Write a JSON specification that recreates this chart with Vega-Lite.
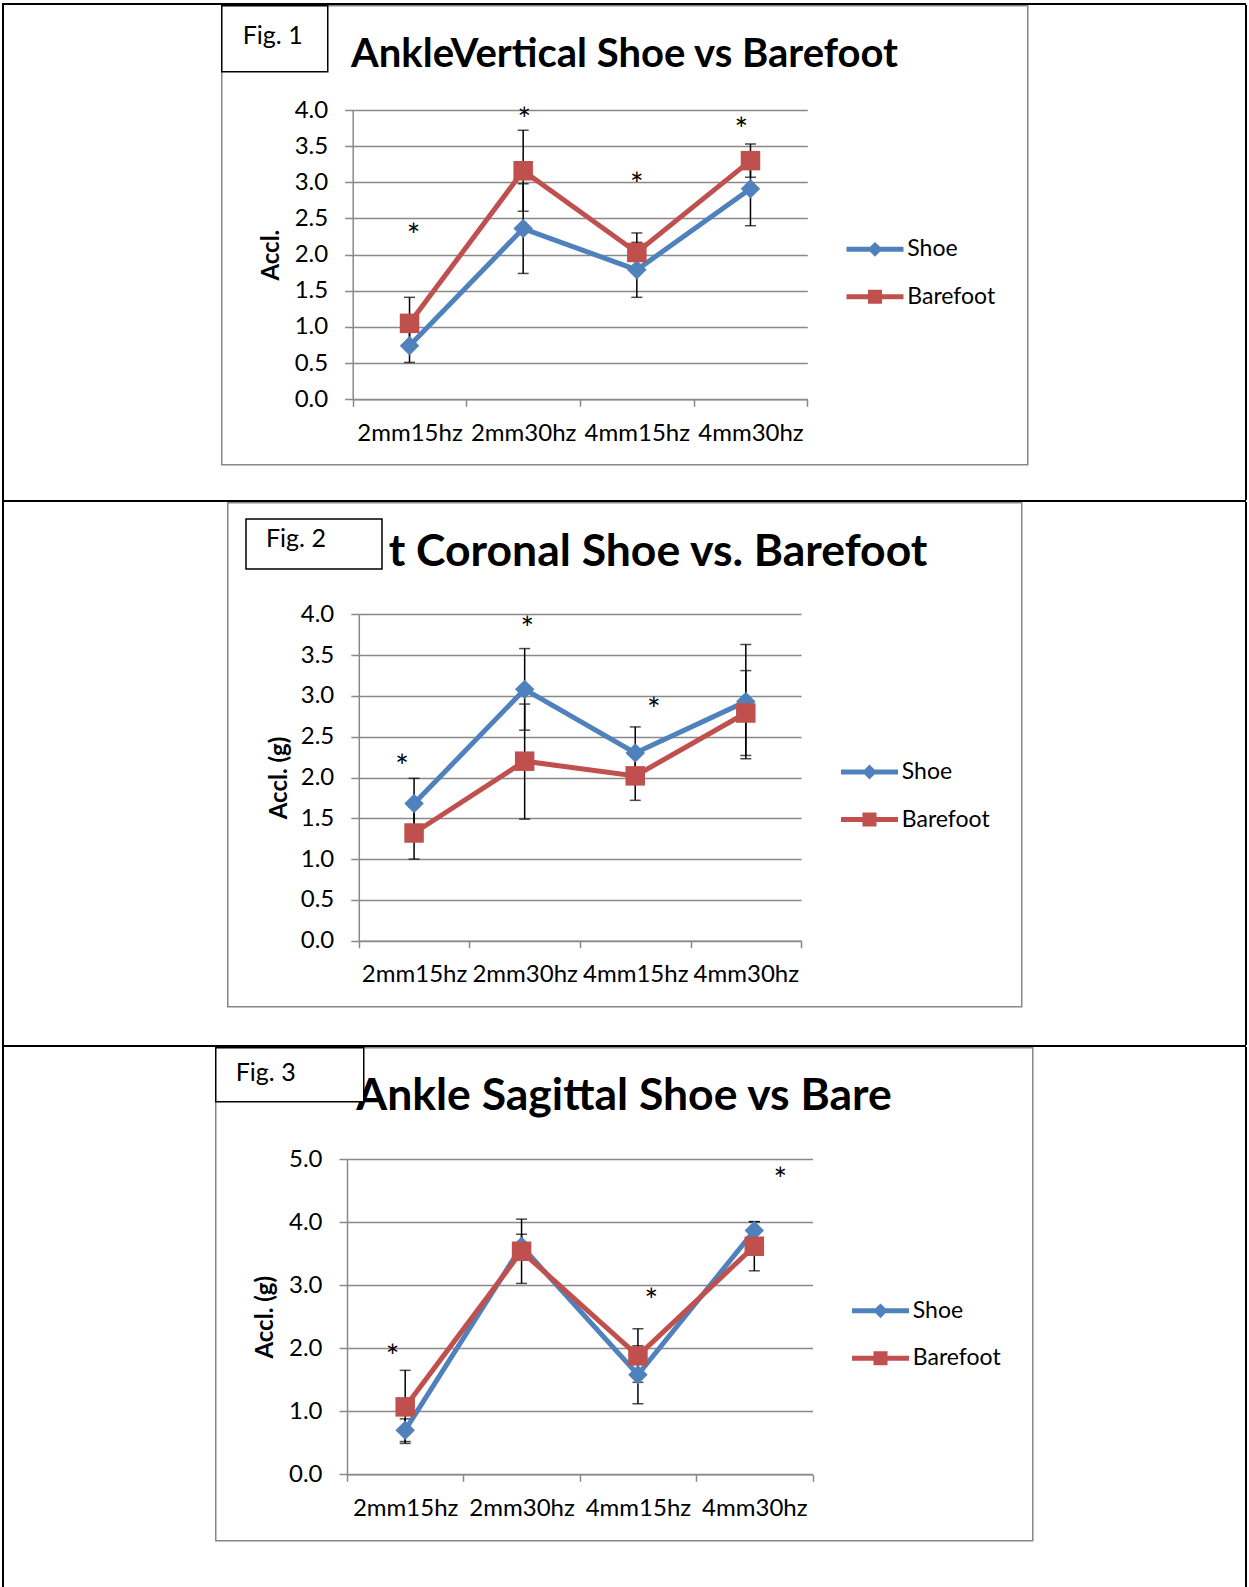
{
  "$schema": "https://vega.github.io/schema/vega-lite/v6.json",
  "background": "white",
  "padding": {"left": 2, "top": 3, "right": 0, "bottom": 0},
  "spacing": 0,
  "resolve": {"scale": {"color": "independent", "fill": "independent", "stroke": "independent"}, "legend": {"color": "independent", "fill": "independent", "stroke": "independent"}},
  "datasets": {
    "d1": [
      {"cat": "2mm15hz", "series": "Shoe", "mean": 0.74, "lo": 0.51, "hi": 0.97},
      {"cat": "2mm30hz", "series": "Shoe", "mean": 2.36, "lo": 1.74, "hi": 2.98},
      {"cat": "4mm15hz", "series": "Shoe", "mean": 1.79, "lo": 1.41, "hi": 2.17},
      {"cat": "4mm30hz", "series": "Shoe", "mean": 2.91, "lo": 2.40, "hi": 3.42},
      {"cat": "2mm15hz", "series": "Barefoot", "mean": 1.05, "lo": 0.69, "hi": 1.41},
      {"cat": "2mm30hz", "series": "Barefoot", "mean": 3.16, "lo": 2.60, "hi": 3.72},
      {"cat": "4mm15hz", "series": "Barefoot", "mean": 2.03, "lo": 1.76, "hi": 2.30},
      {"cat": "4mm30hz", "series": "Barefoot", "mean": 3.30, "lo": 3.07, "hi": 3.53}
    ],
    "d2": [
      {"cat": "2mm15hz", "series": "Shoe", "mean": 1.68, "lo": 1.37, "hi": 1.99},
      {"cat": "2mm30hz", "series": "Shoe", "mean": 3.08, "lo": 2.58, "hi": 3.58},
      {"cat": "4mm15hz", "series": "Shoe", "mean": 2.30, "lo": 1.98, "hi": 2.62},
      {"cat": "4mm30hz", "series": "Shoe", "mean": 2.93, "lo": 2.23, "hi": 3.63},
      {"cat": "2mm15hz", "series": "Barefoot", "mean": 1.32, "lo": 1.00, "hi": 1.64},
      {"cat": "2mm30hz", "series": "Barefoot", "mean": 2.20, "lo": 1.49, "hi": 2.90},
      {"cat": "4mm15hz", "series": "Barefoot", "mean": 2.02, "lo": 1.72, "hi": 2.32},
      {"cat": "4mm30hz", "series": "Barefoot", "mean": 2.79, "lo": 2.27, "hi": 3.31}
    ],
    "d3": [
      {"cat": "2mm15hz", "series": "Shoe", "mean": 0.70, "lo": 0.52, "hi": 0.88},
      {"cat": "2mm30hz", "series": "Shoe", "mean": 3.62, "lo": 3.43, "hi": 3.81},
      {"cat": "4mm15hz", "series": "Shoe", "mean": 1.58, "lo": 1.12, "hi": 2.04},
      {"cat": "4mm30hz", "series": "Shoe", "mean": 3.87, "lo": 3.73, "hi": 4.01},
      {"cat": "2mm15hz", "series": "Barefoot", "mean": 1.07, "lo": 0.49, "hi": 1.65},
      {"cat": "2mm30hz", "series": "Barefoot", "mean": 3.54, "lo": 3.03, "hi": 4.05},
      {"cat": "4mm15hz", "series": "Barefoot", "mean": 1.88, "lo": 1.46, "hi": 2.31},
      {"cat": "4mm30hz", "series": "Barefoot", "mean": 3.62, "lo": 3.23, "hi": 4.01}
    ],
    "s1": [
      {"cat": "2mm15hz", "y": 2.36, "shift": 0.035},
      {"cat": "2mm30hz", "y": 3.96, "shift": 0.01},
      {"cat": "4mm15hz", "y": 3.06, "shift": 0},
      {"cat": "4mm30hz", "y": 3.82, "shift": -0.08}
    ],
    "s2": [
      {"cat": "2mm15hz", "y": 2.22, "shift": -0.12},
      {"cat": "2mm30hz", "y": 3.90, "shift": 0.01},
      {"cat": "4mm15hz", "y": 2.91, "shift": 0.15}
    ],
    "s3": [
      {"cat": "2mm15hz", "y": 1.97, "shift": -0.10},
      {"cat": "4mm15hz", "y": 2.86, "shift": 0.13},
      {"cat": "4mm30hz", "y": 4.79, "shift": 0.24}
    ]
  },
  "vconcat": [
    {"width": 1244, "height": 2, "data": {"values": []}, "mark": "rect", "encoding": {}, "view": {"fill": "black", "stroke": null}},
    {
      "spacing": 0,
      "resolve": {"scale": {"color": "independent", "fill": "independent", "stroke": "independent"}, "legend": {"color": "independent", "fill": "independent", "stroke": "independent"}},
      "hconcat": [
        {"width": 2, "height": 495, "data": {"values": []}, "mark": "rect", "encoding": {}, "view": {"fill": "black", "stroke": null}},
        {"width": 217, "height": 495, "data": {"values": []}, "mark": "rect", "encoding": {}},
        {
          "width": 807, "height": 495,
          "view": {"fill": "white", "stroke": null},
          "title": {"text": "AnkleVertical Shoe vs Barefoot", "fontSize": 40, "offset": -69.5},
          "data": {"name": "d1"},
          "layer": [
            {
              "mark": {"type": "rule", "color": "black", "strokeWidth": 1.5},
              "encoding": {
                "x": {"field": "cat", "type": "nominal", "scale": {"type": "band", "domain": ["2mm15hz", "2mm30hz", "4mm15hz", "4mm30hz"], "range": [131.7, 586.3], "paddingInner": 0, "paddingOuter": 0}, "axis": {"title": null, "offset": -100.7, "tickBand": "extent", "labelAngle": 0, "tickSize": 7, "labelPadding": 15, "grid": false, "labelOverlap": false}},
                "y": {"field": "lo", "type": "quantitative", "scale": {"domain": [0, 4], "range": [394.3, 105], "nice": false, "zero": false}, "axis": {"title": "Accl.", "values": [0, 0.5, 1, 1.5, 2, 2.5, 3, 3.5, 4], "format": ".1f", "offset": -131.7, "grid": true, "tickSize": 8, "labelPadding": 17, "titleX": -81.7, "titleBaseline": "middle"}},
                "y2": {"field": "hi"}
              }
            },
            {
              "mark": {"type": "tick", "color": "black", "thickness": 1.5, "size": 11, "orient": "horizontal"},
              "encoding": {"x": {"field": "cat", "type": "nominal"}, "y": {"field": "lo", "type": "quantitative"}}
            },
            {
              "mark": {"type": "tick", "color": "black", "thickness": 1.5, "size": 11, "orient": "horizontal"},
              "encoding": {"x": {"field": "cat", "type": "nominal"}, "y": {"field": "hi", "type": "quantitative"}}
            },
            {
              "mark": {"type": "line", "strokeWidth": 5},
              "encoding": {
                "x": {"field": "cat", "type": "nominal"},
                "y": {"field": "mean", "type": "quantitative"},
                "color": {"field": "series", "type": "nominal", "scale": {"domain": ["Shoe", "Barefoot"], "range": ["#4F81BD", "#C0504D"]}, "legend": {"orient": "none", "legendX": 635, "legendY": 225.3, "title": null, "padding": 0, "symbolSize": 1444, "symbolStrokeWidth": 0, "labelOffset": 13.3, "rowPadding": 16.5, "direction": "vertical", "encode": {"symbols": {"update": {"shape": {"signal": "datum.value === 'Shoe' ? 'M-1.5,-0.13H-0.26L0,-0.39L0.26,-0.13H1.5V0.13H0.26L0,0.39L-0.26,0.13H-1.5Z' : 'M-1.5,-0.13H-0.37V-0.37H0.37V-0.13H1.5V0.13H0.37V0.37H-0.37V0.13H-1.5Z'"}, "fill": {"signal": "datum.value === 'Shoe' ? '#4F81BD' : '#C0504D'"}, "stroke": {"value": "transparent"}, "strokeWidth": {"value": 0}, "opacity": {"value": 1}}}}}}
              }
            },
            {
              "transform": [{"filter": "datum.series === 'Shoe'"}],
              "mark": {"type": "point", "filled": true, "opacity": 1, "size": 380, "shape": "diamond"},
              "encoding": {"x": {"field": "cat", "type": "nominal"}, "y": {"field": "mean", "type": "quantitative"}, "color": {"field": "series", "type": "nominal"}}
            },
            {
              "transform": [{"filter": "datum.series === 'Barefoot'"}],
              "mark": {"type": "point", "filled": true, "opacity": 1, "size": 380, "shape": "square"},
              "encoding": {"x": {"field": "cat", "type": "nominal"}, "y": {"field": "mean", "type": "quantitative"}, "color": {"field": "series", "type": "nominal"}}
            },
            {
              "data": {"name": "s1"},
              "mark": {"type": "text", "text": "*", "fontSize": 32, "font": "Lato", "baseline": "alphabetic", "dy": 18, "color": "black"},
              "encoding": {
                "x": {"field": "cat", "type": "nominal"},
                "xOffset": {"field": "shift", "type": "quantitative", "scale": {"domain": [-0.5, 0.5]}},
                "y": {"field": "y", "type": "quantitative"}
              }
            },
            {
              "data": {"values": [{"w": 1}]},
              "mark": {"type": "point", "opacity": 0},
              "encoding": {
                "stroke": {"field": "w", "type": "quantitative", "scale": {"domain": [0, 2], "range": ["white", "white"]}, "legend": {"orient": "none", "legendX": 0.75, "legendY": 0.75, "direction": "horizontal", "title": null, "gradientLength": 805.5, "gradientThickness": 458, "gradientStrokeWidth": 0, "labelOpacity": 0, "labelFontSize": 1, "labelOffset": 0, "padding": 0, "strokeColor": "#878787", "zindex": 0, "encode": {"gradient": {"update": {"opacity": {"value": 0}}}, "legend": {"update": {"strokeWidth": {"value": 1.5}}}}}}
              }
            },
            {
              "data": {"values": [{"v": 0.5}]},
              "mark": {"type": "point", "opacity": 0},
              "encoding": {
                "fill": {"field": "v", "type": "quantitative", "scale": {"domain": [0, 1], "range": ["white", "white"]}, "legend": {"orient": "none", "legendX": 0.75, "legendY": 0.75, "direction": "horizontal", "title": "Fig. 1", "titleFontSize": 25, "titleFontWeight": "normal", "titleColor": "black", "titlePadding": 0, "gradientLength": 70, "gradientThickness": 4, "gradientStrokeWidth": 0, "labelOpacity": 0, "labelFontSize": 1, "labelOffset": 0, "padding": 18, "strokeColor": "black", "fillColor": "white", "zindex": 1, "encode": {"title": {"update": {"dx": {"value": 3}}}, "legend": {"update": {"strokeWidth": {"value": 1.5}}}}}}
              }
            }
          ]
        },
        {"width": 216, "height": 495, "data": {"values": []}, "mark": "rect", "encoding": {}},
        {"width": 2, "height": 495, "data": {"values": []}, "mark": "rect", "encoding": {}, "view": {"fill": "black", "stroke": null}}
      ]
    },
    {"width": 1244, "height": 2, "data": {"values": []}, "mark": "rect", "encoding": {}, "view": {"fill": "black", "stroke": null}},
    {
      "spacing": 0,
      "resolve": {"scale": {"color": "independent", "fill": "independent", "stroke": "independent"}, "legend": {"color": "independent", "fill": "independent", "stroke": "independent"}},
      "hconcat": [
        {"width": 2, "height": 543, "data": {"values": []}, "mark": "rect", "encoding": {}, "view": {"fill": "black", "stroke": null}},
        {"width": 223, "height": 543, "data": {"values": []}, "mark": "rect", "encoding": {}},
        {
          "width": 795, "height": 543,
          "view": {"fill": "white", "stroke": null},
          "title": {"text": "t Coronal Shoe vs. Barefoot", "fontSize": 44.5, "offset": -73.8, "dx": 33.5},
          "data": {"name": "d2"},
          "layer": [
            {
              "mark": {"type": "rule", "color": "black", "strokeWidth": 1.5},
              "encoding": {
                "x": {"field": "cat", "type": "nominal", "scale": {"type": "band", "domain": ["2mm15hz", "2mm30hz", "4mm15hz", "4mm30hz"], "range": [131.8, 574.1], "paddingInner": 0, "paddingOuter": 0}, "axis": {"title": null, "offset": -104.3, "tickBand": "extent", "labelAngle": 0, "tickSize": 7, "labelPadding": 15, "grid": false, "labelOverlap": false}},
                "y": {"field": "lo", "type": "quantitative", "scale": {"domain": [0, 4], "range": [438.7, 112.3], "nice": false, "zero": false}, "axis": {"title": "Accl. (g)", "values": [0, 0.5, 1, 1.5, 2, 2.5, 3, 3.5, 4], "format": ".1f", "offset": -131.8, "grid": true, "tickSize": 8, "labelPadding": 17, "titleX": -79, "titleBaseline": "middle"}},
                "y2": {"field": "hi"}
              }
            },
            {
              "mark": {"type": "tick", "color": "black", "thickness": 1.5, "size": 11, "orient": "horizontal"},
              "encoding": {"x": {"field": "cat", "type": "nominal"}, "y": {"field": "lo", "type": "quantitative"}}
            },
            {
              "mark": {"type": "tick", "color": "black", "thickness": 1.5, "size": 11, "orient": "horizontal"},
              "encoding": {"x": {"field": "cat", "type": "nominal"}, "y": {"field": "hi", "type": "quantitative"}}
            },
            {
              "mark": {"type": "line", "strokeWidth": 5},
              "encoding": {
                "x": {"field": "cat", "type": "nominal"},
                "y": {"field": "mean", "type": "quantitative"},
                "color": {"field": "series", "type": "nominal", "scale": {"domain": ["Shoe", "Barefoot"], "range": ["#4F81BD", "#C0504D"]}, "legend": {"orient": "none", "legendX": 623.5, "legendY": 251, "title": null, "padding": 0, "symbolSize": 1444, "symbolStrokeWidth": 0, "labelOffset": 13.3, "rowPadding": 16.5, "direction": "vertical", "encode": {"symbols": {"update": {"shape": {"signal": "datum.value === 'Shoe' ? 'M-1.5,-0.13H-0.26L0,-0.39L0.26,-0.13H1.5V0.13H0.26L0,0.39L-0.26,0.13H-1.5Z' : 'M-1.5,-0.13H-0.37V-0.37H0.37V-0.13H1.5V0.13H0.37V0.37H-0.37V0.13H-1.5Z'"}, "fill": {"signal": "datum.value === 'Shoe' ? '#4F81BD' : '#C0504D'"}, "stroke": {"value": "transparent"}, "strokeWidth": {"value": 0}, "opacity": {"value": 1}}}}}}
              }
            },
            {
              "transform": [{"filter": "datum.series === 'Shoe'"}],
              "mark": {"type": "point", "filled": true, "opacity": 1, "size": 380, "shape": "diamond"},
              "encoding": {"x": {"field": "cat", "type": "nominal"}, "y": {"field": "mean", "type": "quantitative"}, "color": {"field": "series", "type": "nominal"}}
            },
            {
              "transform": [{"filter": "datum.series === 'Barefoot'"}],
              "mark": {"type": "point", "filled": true, "opacity": 1, "size": 380, "shape": "square"},
              "encoding": {"x": {"field": "cat", "type": "nominal"}, "y": {"field": "mean", "type": "quantitative"}, "color": {"field": "series", "type": "nominal"}}
            },
            {
              "data": {"name": "s2"},
              "mark": {"type": "text", "text": "*", "fontSize": 32, "font": "Lato", "baseline": "alphabetic", "dy": 18, "color": "black"},
              "encoding": {
                "x": {"field": "cat", "type": "nominal"},
                "xOffset": {"field": "shift", "type": "quantitative", "scale": {"domain": [-0.5, 0.5]}},
                "y": {"field": "y", "type": "quantitative"}
              }
            },
            {
              "data": {"values": [{"w": 1}]},
              "mark": {"type": "point", "opacity": 0},
              "encoding": {
                "stroke": {"field": "w", "type": "quantitative", "scale": {"domain": [0, 2], "range": ["white", "white"]}, "legend": {"orient": "none", "legendX": 0.75, "legendY": 0.75, "direction": "horizontal", "title": null, "gradientLength": 793.5, "gradientThickness": 503, "gradientStrokeWidth": 0, "labelOpacity": 0, "labelFontSize": 1, "labelOffset": 0, "padding": 0, "strokeColor": "#878787", "zindex": 0, "encode": {"gradient": {"update": {"opacity": {"value": 0}}}, "legend": {"update": {"strokeWidth": {"value": 1.5}}}}}}
              }
            },
            {
              "data": {"values": [{"v": 0.5}]},
              "mark": {"type": "point", "opacity": 0},
              "encoding": {
                "fill": {"field": "v", "type": "quantitative", "scale": {"domain": [0, 1], "range": ["white", "white"]}, "legend": {"orient": "none", "legendX": 19, "legendY": 17, "direction": "horizontal", "title": "Fig. 2", "titleFontSize": 25, "titleFontWeight": "normal", "titleColor": "black", "titlePadding": 0, "gradientLength": 120, "gradientThickness": 8, "gradientStrokeWidth": 0, "labelOpacity": 0, "labelFontSize": 1, "labelOffset": 0, "padding": 8, "strokeColor": "black", "fillColor": "white", "zindex": 1, "encode": {"title": {"update": {"dx": {"value": 12}}}, "legend": {"update": {"strokeWidth": {"value": 1.5}}}}}}
              }
            }
          ]
        },
        {"width": 222, "height": 543, "data": {"values": []}, "mark": "rect", "encoding": {}},
        {"width": 2, "height": 543, "data": {"values": []}, "mark": "rect", "encoding": {}, "view": {"fill": "black", "stroke": null}}
      ]
    },
    {"width": 1244, "height": 2, "data": {"values": []}, "mark": "rect", "encoding": {}, "view": {"fill": "black", "stroke": null}},
    {
      "spacing": 0,
      "resolve": {"scale": {"color": "independent", "fill": "independent", "stroke": "independent"}, "legend": {"color": "independent", "fill": "independent", "stroke": "independent"}},
      "hconcat": [
        {"width": 2, "height": 540, "data": {"values": []}, "mark": "rect", "encoding": {}, "view": {"fill": "black", "stroke": null}},
        {"width": 211, "height": 540, "data": {"values": []}, "mark": "rect", "encoding": {}},
        {
          "width": 818, "height": 540,
          "view": {"fill": "white", "stroke": null},
          "title": {"text": "Ankle Sagittal Shoe vs Bare", "fontSize": 44.5, "offset": -72.8},
          "data": {"name": "d3"},
          "layer": [
            {
              "mark": {"type": "rule", "color": "black", "strokeWidth": 1.5},
              "encoding": {
                "x": {"field": "cat", "type": "nominal", "scale": {"type": "band", "domain": ["2mm15hz", "2mm30hz", "4mm15hz", "4mm30hz"], "range": [132, 597.5], "paddingInner": 0, "paddingOuter": 0}, "axis": {"title": null, "offset": -112.7, "tickBand": "extent", "labelAngle": 0, "tickSize": 7, "labelPadding": 15, "grid": false, "labelOverlap": false}},
                "y": {"field": "lo", "type": "quantitative", "scale": {"domain": [0, 5], "range": [427.3, 112.3], "nice": false, "zero": false}, "axis": {"title": "Accl. (g)", "values": [0, 1, 2, 3, 4, 5], "format": ".1f", "offset": -132, "grid": true, "tickSize": 8, "labelPadding": 17, "titleX": -82, "titleBaseline": "middle"}},
                "y2": {"field": "hi"}
              }
            },
            {
              "mark": {"type": "tick", "color": "black", "thickness": 1.5, "size": 11, "orient": "horizontal"},
              "encoding": {"x": {"field": "cat", "type": "nominal"}, "y": {"field": "lo", "type": "quantitative"}}
            },
            {
              "mark": {"type": "tick", "color": "black", "thickness": 1.5, "size": 11, "orient": "horizontal"},
              "encoding": {"x": {"field": "cat", "type": "nominal"}, "y": {"field": "hi", "type": "quantitative"}}
            },
            {
              "mark": {"type": "line", "strokeWidth": 5},
              "encoding": {
                "x": {"field": "cat", "type": "nominal"},
                "y": {"field": "mean", "type": "quantitative"},
                "color": {"field": "series", "type": "nominal", "scale": {"domain": ["Shoe", "Barefoot"], "range": ["#4F81BD", "#C0504D"]}, "legend": {"orient": "none", "legendX": 646.5, "legendY": 244.8, "title": null, "padding": 0, "symbolSize": 1444, "symbolStrokeWidth": 0, "labelOffset": 13.3, "rowPadding": 16.5, "direction": "vertical", "encode": {"symbols": {"update": {"shape": {"signal": "datum.value === 'Shoe' ? 'M-1.5,-0.13H-0.26L0,-0.39L0.26,-0.13H1.5V0.13H0.26L0,0.39L-0.26,0.13H-1.5Z' : 'M-1.5,-0.13H-0.37V-0.37H0.37V-0.13H1.5V0.13H0.37V0.37H-0.37V0.13H-1.5Z'"}, "fill": {"signal": "datum.value === 'Shoe' ? '#4F81BD' : '#C0504D'"}, "stroke": {"value": "transparent"}, "strokeWidth": {"value": 0}, "opacity": {"value": 1}}}}}}
              }
            },
            {
              "transform": [{"filter": "datum.series === 'Shoe'"}],
              "mark": {"type": "point", "filled": true, "opacity": 1, "size": 380, "shape": "diamond"},
              "encoding": {"x": {"field": "cat", "type": "nominal"}, "y": {"field": "mean", "type": "quantitative"}, "color": {"field": "series", "type": "nominal"}}
            },
            {
              "transform": [{"filter": "datum.series === 'Barefoot'"}],
              "mark": {"type": "point", "filled": true, "opacity": 1, "size": 380, "shape": "square"},
              "encoding": {"x": {"field": "cat", "type": "nominal"}, "y": {"field": "mean", "type": "quantitative"}, "color": {"field": "series", "type": "nominal"}}
            },
            {
              "data": {"name": "s3"},
              "mark": {"type": "text", "text": "*", "fontSize": 32, "font": "Lato", "baseline": "alphabetic", "dy": 18, "color": "black"},
              "encoding": {
                "x": {"field": "cat", "type": "nominal"},
                "xOffset": {"field": "shift", "type": "quantitative", "scale": {"domain": [-0.5, 0.5]}},
                "y": {"field": "y", "type": "quantitative"}
              }
            },
            {
              "data": {"values": [{"w": 1}]},
              "mark": {"type": "point", "opacity": 0},
              "encoding": {
                "stroke": {"field": "w", "type": "quantitative", "scale": {"domain": [0, 2], "range": ["white", "white"]}, "legend": {"orient": "none", "legendX": 0.75, "legendY": 0.75, "direction": "horizontal", "title": null, "gradientLength": 816.5, "gradientThickness": 492, "gradientStrokeWidth": 0, "labelOpacity": 0, "labelFontSize": 1, "labelOffset": 0, "padding": 0, "strokeColor": "#878787", "zindex": 0, "encode": {"gradient": {"update": {"opacity": {"value": 0}}}, "legend": {"update": {"strokeWidth": {"value": 1.5}}}}}}
              }
            },
            {
              "data": {"values": [{"v": 0.5}]},
              "mark": {"type": "point", "opacity": 0},
              "encoding": {
                "fill": {"field": "v", "type": "quantitative", "scale": {"domain": [0, 1], "range": ["white", "white"]}, "legend": {"orient": "none", "legendX": 0.75, "legendY": 0.75, "direction": "horizontal", "title": "Fig. 3", "titleFontSize": 25, "titleFontWeight": "normal", "titleColor": "black", "titlePadding": 0, "gradientLength": 121, "gradientThickness": 1, "gradientStrokeWidth": 0, "labelOpacity": 0, "labelFontSize": 1, "labelOffset": 0, "padding": 13.5, "strokeColor": "black", "fillColor": "white", "zindex": 1, "encode": {"title": {"update": {"dx": {"value": 6.5}}}, "legend": {"update": {"strokeWidth": {"value": 1.5}}}}}}
              }
            }
          ]
        },
        {"width": 211, "height": 540, "data": {"values": []}, "mark": "rect", "encoding": {}},
        {"width": 2, "height": 540, "data": {"values": []}, "mark": "rect", "encoding": {}, "view": {"fill": "black", "stroke": null}}
      ]
    }
  ],
  "config": {
    "font": "Lato",
    "view": {"fill": "white", "stroke": null},
    "axis": {"labelFont": "Lato", "labelFontSize": 24, "labelColor": "black", "titleFont": "Lato", "titleFontSize": 24, "titleFontWeight": "bold", "titleColor": "black", "domainColor": "#898989", "domainWidth": 1.5, "tickColor": "#898989", "tickWidth": 1.5, "gridColor": "#898989", "gridWidth": 1.5},
    "legend": {"labelFont": "Lato", "labelFontSize": 23, "labelColor": "black", "titleFont": "Lato"},
    "title": {"font": "Lato", "fontWeight": "bold", "color": "black", "anchor": "middle", "frame": "group", "baseline": "alphabetic"}
  }
}
